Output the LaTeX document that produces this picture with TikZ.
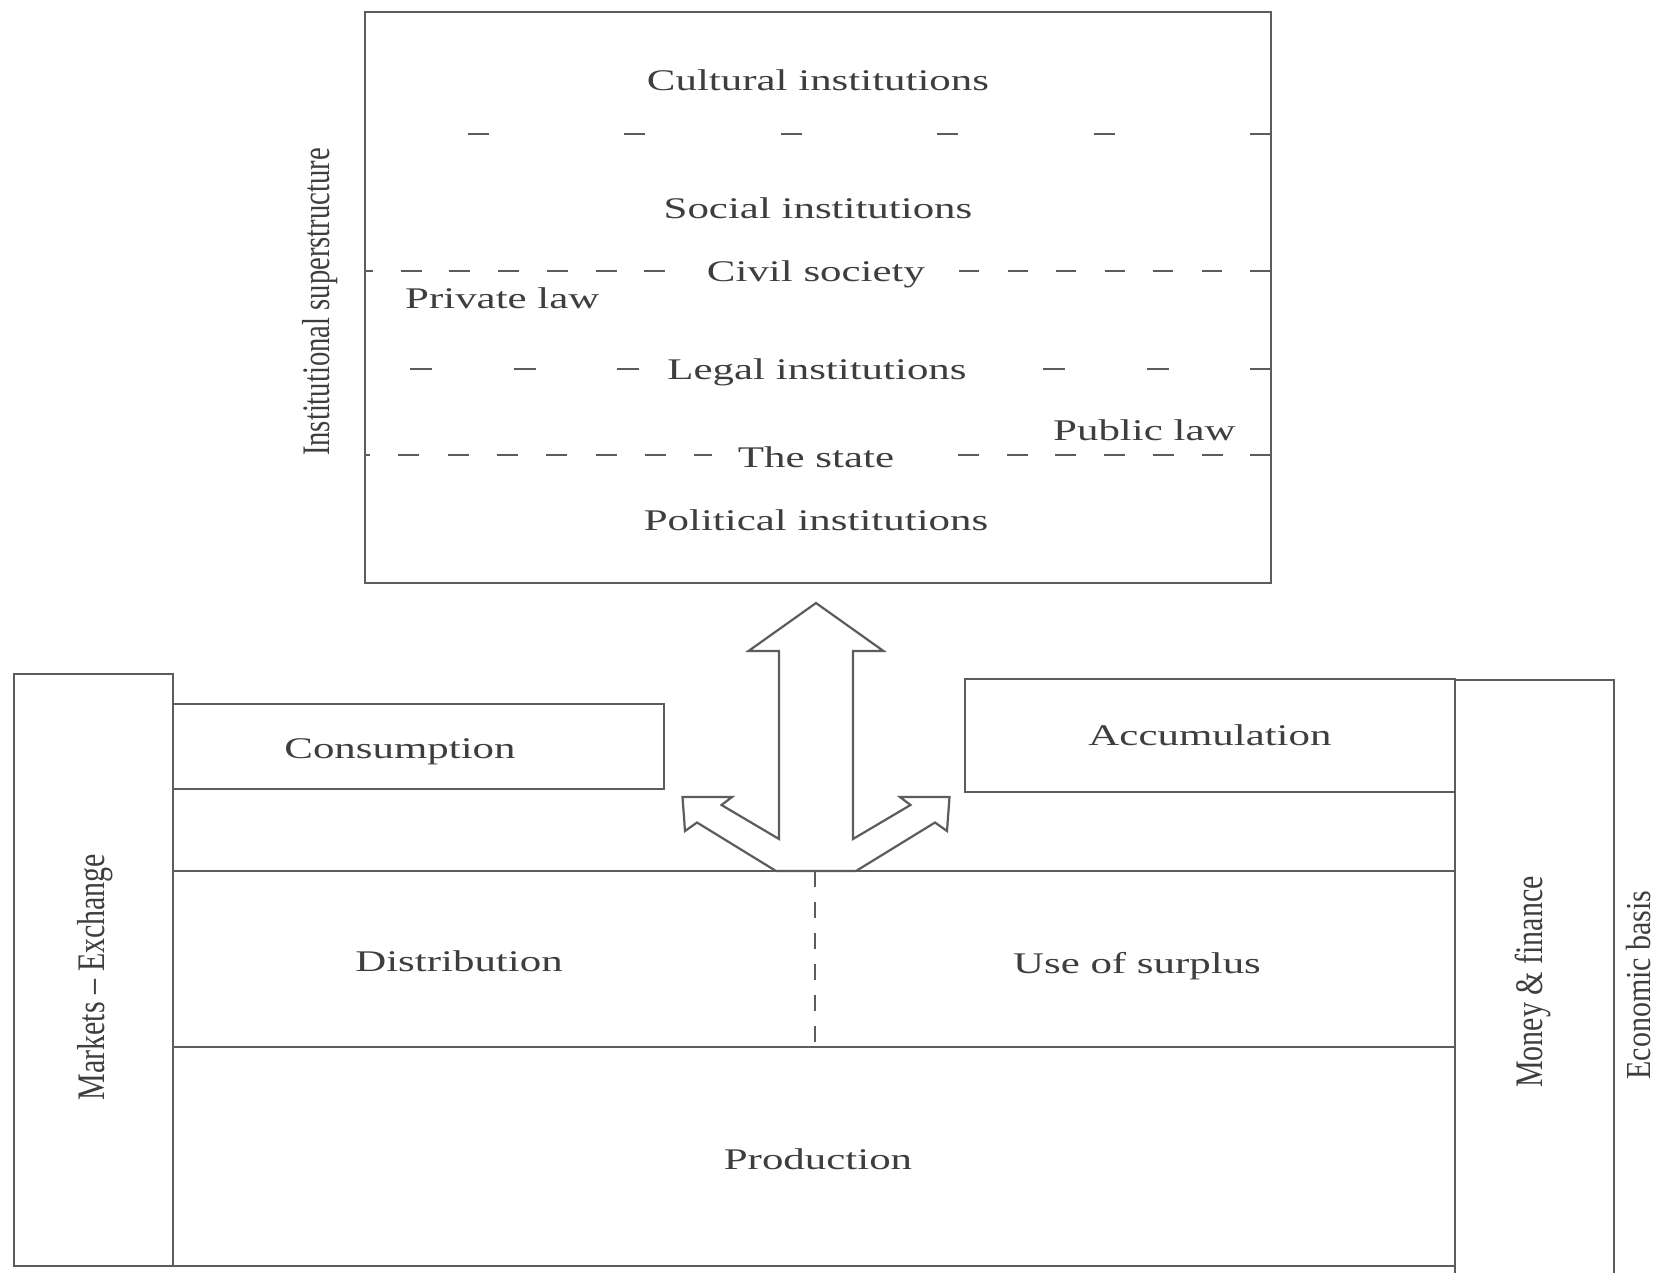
\documentclass[tikz,border=0pt]{standalone}
\usepackage{fontspec}
\setmainfont{Liberation Serif}
\usepackage{graphicx}
\definecolor{ln}{RGB}{92,92,92}
\definecolor{tx}{RGB}{62,62,62}
\newcommand\hstr[1]{\scalebox{1.43}[1]{#1}}
\newcommand\vstr[2][1]{\scalebox{#1}[1.3]{#2}}
\begin{document}
\begin{tikzpicture}[x=1pt,y=-1pt,
  box/.style={draw=ln, line width=2.2pt},
  dl/.style={draw=ln, line width=2.2pt},
  lbl/.style={text=tx, font=\fontsize{30}{36}\selectfont, inner sep=0pt}]
\useasboundingbox[fill=white] (0,0) rectangle (1660,1272);
\clip (0,0) rectangle (1660,1272);

% ---------- superstructure ----------
\draw[box] (365,12) rectangle (1271,583);
\draw[dl, dash pattern=on 21pt off 135.4pt] (468,134) -- (1271,134);
\draw[dl, dash pattern=on 21pt off 27.7pt, dash phase=13pt] (365,271) -- (667,271);
\draw[dl, dash pattern=on 20pt off 28.5pt] (959,271) -- (1271,271);
\draw[dl, dash pattern=on 22pt off 81.5pt] (410,369) -- (640,369);
\draw[dl, dash pattern=on 22pt off 81.5pt] (1043,369) -- (1271,369);
\draw[dl, dash pattern=on 21pt off 28.3pt, dash phase=16pt] (365,455) -- (712,455);
\draw[dl, dash pattern=on 21pt off 27.7pt] (958,455) -- (1271,455);

\node[lbl, anchor=base] (cult) at (818,90) {\hstr{Cultural institutions}};
\node[lbl, anchor=base] (soc) at (818,218) {\hstr{Social institutions}};
\node[lbl, anchor=base] (civ) at (816,281) {\hstr{Civil society}};
\node[lbl, anchor=base west] (priv) at (405,308) {\hstr{Private law}};
\node[lbl, anchor=base] (leg) at (817,379) {\hstr{Legal institutions}};
\node[lbl, anchor=base west] (pub) at (1053,440) {\hstr{Public law}};
\node[lbl, anchor=base] (state) at (816,467) {\hstr{The state}};
\node[lbl, anchor=base] (pol) at (816,530) {\hstr{Political institutions}};
\node[lbl, rotate=90] (inst) at (320,302) {\vstr[0.955]{Institutional superstructure}};

% ---------- economic basis ----------
\draw[box] (14,674) rectangle (173,1266);
\draw[box] (173,704) rectangle (664,789);
\draw[box] (965,679) rectangle (1455,792);
\draw[box] (1455,680) rectangle (1614,1300);
\draw[box] (173,871) -- (1455,871);
\draw[box] (173,1047) -- (1455,1047);
\draw[box] (173,1266) -- (1455,1266);
\draw[dl, dash pattern=on 16pt off 15pt] (815,871) -- (815,1047);

\node[lbl, anchor=base] (cons) at (400,758) {\hstr{Consumption}};
\node[lbl, anchor=base] (accu) at (1210,745) {\hstr{Accumulation}};
\node[lbl, anchor=base] (dist) at (459,971) {\hstr{Distribution}};
\node[lbl, anchor=base] (surp) at (1137,973) {\hstr{Use of surplus}};
\node[lbl, anchor=base] (prod) at (818,1169) {\hstr{Production}};
\node[lbl, rotate=90] (mkt) at (95,977) {\vstr{Markets – Exchange}};
\node[lbl, rotate=90] (mon) at (1533,982) {\vstr{Money \& finance}};
\node[lbl, rotate=90] (eco) at (1638,985) {\vstr[1]{\scalebox{1}[0.9]{Economic basis}}};

% ---------- three-headed arrow ----------
\draw[dl, fill=white, line join=miter]
  (816,603) -- (883.5,651) -- (853,651) -- (853,839) -- (910.5,805)
  -- (900,797) -- (949.5,797) -- (947,831) -- (935,822.5) -- (856,871)
  -- (776,871) -- (697,822.5) -- (685,831) -- (682.5,797) -- (732,797)
  -- (721.5,805) -- (779,839) -- (779,651) -- (748.5,651) -- cycle;
\end{tikzpicture}
\end{document}
